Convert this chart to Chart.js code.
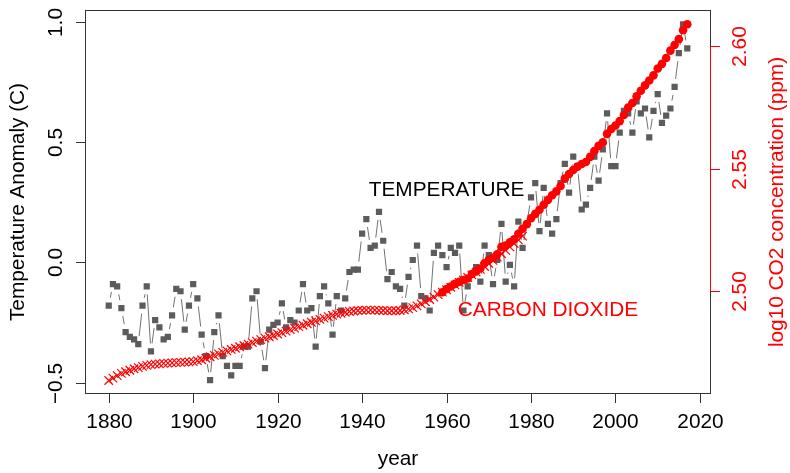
<!DOCTYPE html>
<html>
<head>
<meta charset="utf-8">
<script src="https://cdn.jsdelivr.net/npm/chart.js@4.4.1/dist/chart.umd.min.js"></script>
<style>
  body { margin: 0; background: #fff; }
  canvas { display: block; }
</style>
</head>
<body>
<canvas id="chart" width="790" height="473"></canvas>
<script>
// Temperature anomaly (C), one value per year starting 1880
const tempStartYear = 1880;
const tempAnomaly = [
  -0.18, -0.09, -0.10, -0.19, -0.29, -0.31, -0.32, -0.34, -0.18, -0.10,
  -0.37, -0.24, -0.27, -0.32, -0.31, -0.22, -0.11, -0.12, -0.28, -0.18,
  -0.09, -0.15, -0.30, -0.39, -0.49, -0.29, -0.22, -0.39, -0.43, -0.47,
  -0.43, -0.43, -0.35, -0.35, -0.15, -0.12, -0.33, -0.44, -0.28, -0.26,
  -0.25, -0.17, -0.27, -0.24, -0.25, -0.20, -0.09, -0.20, -0.19, -0.35,
  -0.14, -0.10, -0.17, -0.30, -0.14, -0.20, -0.15, -0.04, -0.03, -0.03,
   0.12,  0.18,  0.06,  0.07,  0.21,  0.09, -0.07, -0.04, -0.10, -0.11,
  -0.18, -0.06,  0.01,  0.07, -0.14, -0.15, -0.20,  0.04,  0.07,  0.03,
  -0.02,  0.06,  0.04,  0.07, -0.20, -0.10, -0.05, -0.02, -0.08,  0.07,
   0.03, -0.09,  0.01,  0.16, -0.08, -0.01, -0.10,  0.17,  0.06,  0.16,
   0.27,  0.33,  0.13,  0.31,  0.16,  0.12,  0.18,  0.33,  0.41,  0.29,
   0.44,  0.40,  0.22,  0.24,  0.31,  0.44,  0.34,  0.47,  0.62,  0.40,
   0.40,  0.54,  0.63,  0.62,  0.54,  0.67,  0.62,  0.64,  0.52,  0.63,
   0.70,  0.58,  0.61,  0.64,  0.73,  0.87,  0.99,  0.89
];

// log10 CO2 (ppm), ice core record, yearly from 1880 (drawn as x)
const co2IceStartYear = 1880;
const co2IceLog = [
  2.4635, 2.4645, 2.4655, 2.4664, 2.4671, 2.4677, 2.4683, 2.4688, 2.4693, 2.4697,
  2.4700, 2.4702, 2.4703, 2.4705, 2.4706, 2.4707, 2.4708, 2.4709, 2.4710, 2.4711,
  2.4712, 2.4716, 2.4720, 2.4726, 2.4732, 2.4738, 2.4744, 2.4750, 2.4756, 2.4762,
  2.4767, 2.4773, 2.4778, 2.4784, 2.4790, 2.4796, 2.4802, 2.4808, 2.4814, 2.4819,
  2.4825, 2.4831, 2.4837, 2.4843, 2.4849, 2.4855, 2.4861, 2.4867, 2.4873, 2.4879,
  2.4885, 2.4890, 2.4896, 2.4901, 2.4906, 2.4910, 2.4914, 2.4917, 2.4919, 2.4921,
  2.4922, 2.4923, 2.4923, 2.4923, 2.4922, 2.4921, 2.4920, 2.4920, 2.4920, 2.4921,
  2.4924, 2.4928, 2.4933, 2.4940, 2.4948, 2.4957, 2.4966, 2.4976, 2.4986, 2.4996,
  2.5006, 2.5016, 2.5026, 2.5036, 2.5046, 2.5056, 2.5067, 2.5078, 2.5089, 2.5101,
  2.5113, 2.5126, 2.5139, 2.5153, 2.5167, 2.5181, 2.5195, 2.5210, 2.5225
];

// log10 CO2 (ppm), Mauna Loa annual means from 1959 (drawn as dots)
const co2MloStartYear = 1959;
const co2MloLog = [
  2.4996, 2.5009, 2.5019, 2.5030, 2.5038, 2.5046, 2.5052, 2.5070, 2.5081, 2.5093,
  2.5114, 2.5128, 2.5136, 2.5151, 2.5181, 2.5187, 2.5200, 2.5212, 2.5235, 2.5255,
  2.5274, 2.5298, 2.5316, 2.5333, 2.5353, 2.5373, 2.5392, 2.5408, 2.5430, 2.5460,
  2.5479, 2.5495, 2.5509, 2.5520, 2.5528, 2.5549, 2.5573, 2.5594, 2.5608, 2.5643,
  2.5663, 2.5677, 2.5695, 2.5720, 2.5750, 2.5769, 2.5796, 2.5819, 2.5841, 2.5861,
  2.5882, 2.5910, 2.5929, 2.5953, 2.5983, 2.6006, 2.6030, 2.6066, 2.6091
];

// axis ticks and labels
const yearTicks = [1880, 1900, 1920, 1940, 1960, 1980, 2000, 2020];
const tempTicks = [-0.5, 0, 0.5, 1.0];
const tempTickLabels = ['\u22120.5', '0.0', '0.5', '1.0'];
const co2Ticks = [2.50, 2.55, 2.60];
const co2TickLabels = ['2.50', '2.55', '2.60'];

const FONT = '20.8px "Liberation Sans", Arial, Helvetica, sans-serif';
const RED = '#ff0000';

function toPoints(start, values) {
    return values.map((v, i) => ({ x: start + i, y: v }));
}

function vText(ctx, text, x, y) {
    ctx.save();
    ctx.translate(x, y);
    ctx.rotate(-Math.PI / 2);
    ctx.textAlign = 'center';
    ctx.textBaseline = 'alphabetic';
    ctx.fillText(text, 0, 0);
    ctx.restore();
}

// R style frame: box, outside ticks, rotated y labels, plus type="b" gaps for the temperature line
const rFrame = {
    id: 'rFrame',
    beforeDatasetsDraw(chart) {
        const meta = chart.getDatasetMeta(2);
        const pts = meta.data;
        const gap = 8;
        const ctx = chart.ctx;
        ctx.save();
        ctx.strokeStyle = '#727272';
        ctx.lineWidth = 1;
        ctx.beginPath();
        for (let i = 0; i < pts.length - 1; i++) {
            const dx = pts[i + 1].x - pts[i].x;
            const dy = pts[i + 1].y - pts[i].y;
            const len = Math.hypot(dx, dy);
            if (len <= 2 * gap) continue;
            const fx = dx / len * gap, fy = dy / len * gap;
            ctx.moveTo(pts[i].x + fx, pts[i].y + fy);
            ctx.lineTo(pts[i + 1].x - fx, pts[i + 1].y - fy);
        }
        ctx.stroke();
        ctx.restore();
    },
    afterDraw(chart) {
        const { ctx, chartArea: a, scales } = chart;
        const tick = 9.5;
        ctx.save();
        ctx.font = FONT;
        ctx.lineWidth = 1;

        // box
        ctx.strokeStyle = '#333';
        ctx.strokeRect(a.left, a.top, a.right - a.left, a.bottom - a.top);

        // bottom axis
        ctx.fillStyle = '#000';
        ctx.textAlign = 'center';
        ctx.textBaseline = 'alphabetic';
        yearTicks.forEach(t => {
            const x = Math.round(scales.x.getPixelForValue(t)) + 0.5;
            ctx.beginPath();
            ctx.moveTo(x, a.bottom);
            ctx.lineTo(x, a.bottom + tick);
            ctx.stroke();
            ctx.fillText(String(t), x, 428);
        });
        ctx.fillText('year', (a.left + a.right) / 2, 465);

        // left axis
        tempTicks.forEach((t, i) => {
            const y = Math.round(scales.y.getPixelForValue(t)) + 0.5;
            ctx.beginPath();
            ctx.moveTo(a.left, y);
            ctx.lineTo(a.left - tick, y);
            ctx.stroke();
            vText(ctx, tempTickLabels[i], 62, y);
        });
        vText(ctx, 'Temperature Anomaly (C)', 23.5, (a.top + a.bottom) / 2);

        // right axis in red
        ctx.strokeStyle = RED;
        ctx.fillStyle = RED;
        const y0 = Math.round(scales.y2.getPixelForValue(co2Ticks[0])) + 0.5;
        const y1 = Math.round(scales.y2.getPixelForValue(co2Ticks[co2Ticks.length - 1])) + 0.5;
        ctx.beginPath();
        ctx.moveTo(a.right, y0);
        ctx.lineTo(a.right, y1);
        ctx.stroke();
        co2Ticks.forEach((t, i) => {
            const y = Math.round(scales.y2.getPixelForValue(t)) + 0.5;
            ctx.beginPath();
            ctx.moveTo(a.right, y);
            ctx.lineTo(a.right + tick, y);
            ctx.stroke();
            vText(ctx, co2TickLabels[i], 746, y);
        });
        vText(ctx, 'log10 CO2 concentration (ppm)', 782.5, (a.top + a.bottom) / 2);

        // in-plot labels
        ctx.textAlign = 'center';
        ctx.textBaseline = 'middle';
        ctx.fillStyle = '#000';
        ctx.fillText('TEMPERATURE', scales.x.getPixelForValue(1960), scales.y.getPixelForValue(0.3));
        ctx.fillStyle = RED;
        ctx.fillText('CARBON DIOXIDE', scales.x.getPixelForValue(1984), scales.y.getPixelForValue(-0.2));
        ctx.restore();
    }
};

const ctx = document.getElementById('chart').getContext('2d');
new Chart(ctx, {
    type: 'scatter',
    data: {
        datasets: [
            {
                label: 'CO2 Mauna Loa',
                data: toPoints(co2MloStartYear, co2MloLog),
                yAxisID: 'y2',
                pointStyle: 'circle',
                pointRadius: 4.3,
                backgroundColor: RED,
                borderColor: RED,
                borderWidth: 0,
                order: 0
            },
            {
                label: 'CO2 ice core',
                data: toPoints(co2IceStartYear, co2IceLog),
                yAxisID: 'y2',
                pointStyle: 'crossRot',
                pointRadius: 6,
                borderColor: RED,
                borderWidth: 1.2,
                order: 1
            },
            {
                label: 'Temperature',
                data: toPoints(tempStartYear, tempAnomaly),
                yAxisID: 'y',
                pointStyle: 'rect',
                pointRadius: 4.4,
                backgroundColor: '#5c5c5c',
                borderWidth: 0,
                order: 2
            }
        ]
    },
    options: {
        responsive: false,
        animation: false,
        events: [],
        layout: { padding: { left: 85.5, right: 79.5, top: 10.5, bottom: 79.5 } },
        plugins: {
            legend: { display: false },
            tooltip: { enabled: false }
        },
        scales: {
            x: { type: 'linear', min: 1874.5, max: 2022.5, display: false },
            y: { type: 'linear', min: -0.5452, max: 1.0475, display: false },
            y2: { type: 'linear', position: 'right', min: 2.4582, max: 2.6147, display: false }
        }
    },
    plugins: [rFrame]
});
</script>
</body>
</html>
